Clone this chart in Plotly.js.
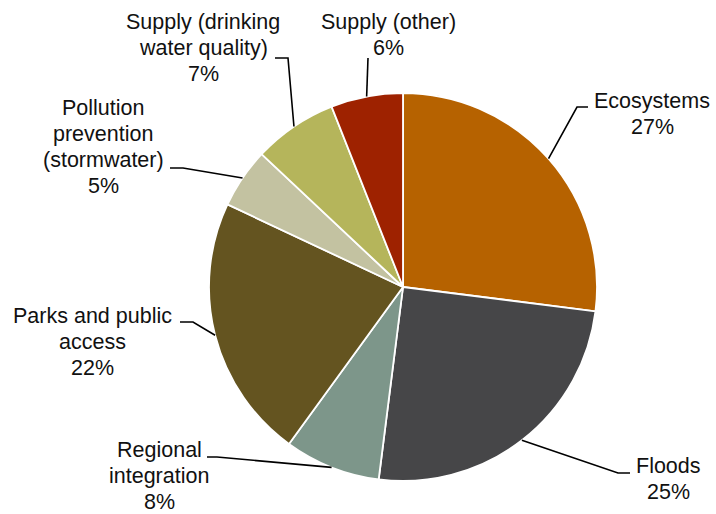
<!DOCTYPE html>
<html>
<head>
<meta charset="utf-8">
<script src="https://cdn.plot.ly/plotly-3.0.1.min.js"></script>
<style>html,body{margin:0;padding:0;background:#fff;}#chart{width:716px;height:514px;}</style>
</head>
<body>
<div id="chart"></div>
<script>
// ---- data ----
const categories = ["Ecosystems", "Floods", "Regional integration", "Parks and public access",
  "Pollution prevention (stormwater)", "Supply (drinking water quality)", "Supply (other)"];
const labelLines = [["Ecosystems"], ["Floods"], ["Regional", "integration"], ["Parks and public", "access"],
  ["Pollution", "prevention", "(stormwater)"], ["Supply (drinking", "water quality)"], ["Supply (other)"]];
const shares = [27, 25, 8, 22, 5, 7, 6];
const colors = ["#B66200", "#464648", "#7D968A", "#645420", "#C3C2A1", "#B5B55B", "#9E2200"];

// ---- layout geometry (pixels) ----
const W = 716, H = 514;
const cx = 403, cy = 287, R = 194;
const lineGap = 26;
// label centre x, first-line y, leader start, leader elbow
const labelPos = [
  {x: 652, y: 101, sx: 588, sy: 107, ex: 577, ey: 107},
  {x: 668, y: 466, sx: 630, sy: 473, ex: 618, ey: 473},
  {x: 159, y: 450, sx: 207, sy: 457, ex: 217, ey: 457},
  {x: 92,  y: 316, sx: 180, sy: 322, ex: 193, ey: 322},
  {x: 103, y: 108, sx: 170, sy: 168, ex: 183, ey: 168},
  {x: 203, y: 22,  sx: 275, sy: 58,  ex: 288, ey: 58},
  {x: 388, y: 22,  sx: 368, sy: 58,  ex: 368, ey: 58}
];

const px = v => v / W;
const py = v => 1 - v / H;

const total = shares.reduce((a, b) => a + b, 0);
let cum = 0;
const annotations = [];
const shapes = [];
shares.forEach((v, i) => {
  const mid = (cum + v / 2) / total * 2 * Math.PI;
  cum += v;
  const tx = cx + R * Math.sin(mid);
  const ty = cy - R * Math.cos(mid);
  const p = labelPos[i];
  const lines = labelLines[i].concat([v + "%"]);
  lines.forEach((t, k) => {
    annotations.push({
      xref: "paper", yref: "paper", x: px(p.x), y: py(p.y + k * lineGap),
      xanchor: "center", yanchor: "middle", align: "center", showarrow: false,
      text: t,
      font: {family: "Liberation Sans, Arial, sans-serif", size: 21.5, color: "#111"}
    });
  });
  shapes.push({
    type: "path", xref: "paper", yref: "paper",
    path: `M ${px(p.sx)} ${py(p.sy)} L ${px(p.ex)} ${py(p.ey)} L ${px(tx)} ${py(ty)}`,
    line: {color: "#000", width: 1.6}
  });
});

const trace = {
  type: "pie",
  labels: categories,
  values: shares,
  sort: false,
  direction: "clockwise",
  rotation: 0,
  textinfo: "none",
  hoverinfo: "label+percent",
  marker: {colors: colors, line: {color: "#ffffff", width: 1.8}},
  domain: {x: [px(cx - R), px(cx + R)], y: [py(cy + R), py(cy - R)]},
  showlegend: false
};

const layout = {
  width: W, height: H,
  margin: {l: 0, r: 0, t: 0, b: 0},
  paper_bgcolor: "#fff",
  showlegend: false,
  annotations: annotations,
  shapes: shapes
};

Plotly.newPlot("chart", [trace], layout, {displayModeBar: false, staticPlot: true});
</script>
</body>
</html>
